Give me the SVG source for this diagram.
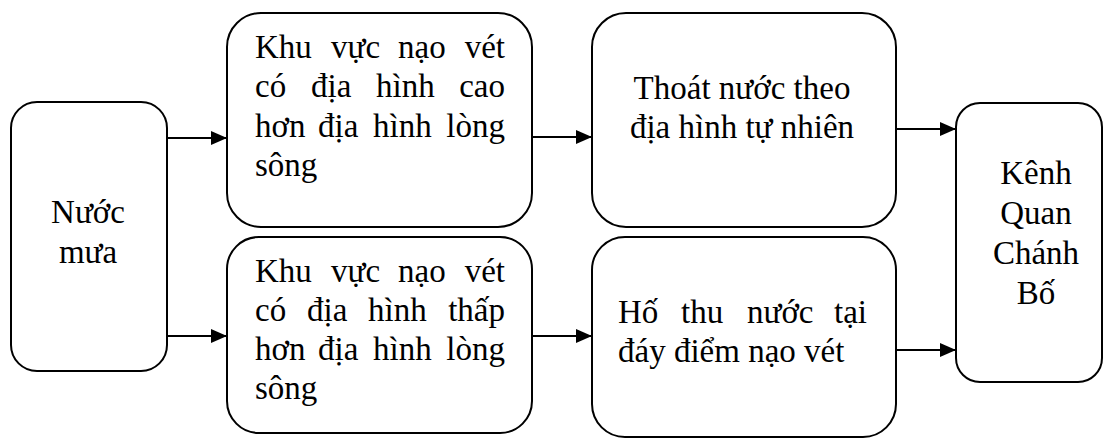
<svg xmlns="http://www.w3.org/2000/svg" width="1104" height="438" viewBox="0 0 1104 438">
  <style>
    .box { fill: #ffffff; stroke: #000000; stroke-width: 2; }
    .lbl { font-family: "Liberation Serif", "Times New Roman", serif; font-size: 33px; fill: #000000; }
    .mid { text-anchor: middle; }
    .end { text-anchor: end; }
    .link { stroke: #000000; stroke-width: 2; fill: none; marker-end: url(#arrow); }
  </style>
  <defs>
    <marker id="arrow" viewBox="0 0 16 14" refX="16" refY="7" markerWidth="16" markerHeight="14" markerUnits="userSpaceOnUse" orient="auto">
      <path d="M0,0 L16,7 L0,14 Z" fill="#000000"/>
    </marker>
  </defs>
  <rect width="1104" height="438" fill="#ffffff"/>

  <!-- rain water -->
  <g id="node-rain">
    <rect class="box" x="11" y="102" width="156" height="269" rx="26" ry="26"/>
    <text class="lbl mid" x="88" y="223">Nước</text>
    <text class="lbl mid" x="88" y="263">mưa</text>
  </g>

  <!-- dredged area above river bed -->
  <g id="node-high">
    <rect class="box" x="227" y="13" width="305" height="214" rx="34" ry="34"/>
    <text class="lbl" x="255" y="58">Khu</text>
    <text class="lbl" x="331" y="58">vực</text>
    <text class="lbl" x="398" y="58">nạo</text>
    <text class="lbl end" x="505" y="58">vét</text>
    <text class="lbl" x="255" y="97">có</text>
    <text class="lbl" x="311" y="97">địa</text>
    <text class="lbl" x="376" y="97">hình</text>
    <text class="lbl end" x="505" y="97">cao</text>
    <text class="lbl" x="255" y="137">hơn</text>
    <text class="lbl" x="318" y="137">địa</text>
    <text class="lbl" x="373" y="137">hình</text>
    <text class="lbl end" x="505" y="137">lòng</text>
    <text class="lbl" x="255" y="176">sông</text>
  </g>

  <!-- dredged area below river bed -->
  <g id="node-low">
    <rect class="box" x="227" y="237" width="305" height="196" rx="32" ry="32"/>
    <text class="lbl" x="255" y="282">Khu</text>
    <text class="lbl" x="331" y="282">vực</text>
    <text class="lbl" x="398" y="282">nạo</text>
    <text class="lbl end" x="505" y="282">vét</text>
    <text class="lbl" x="255" y="321">có</text>
    <text class="lbl" x="307" y="321">địa</text>
    <text class="lbl" x="368" y="321">hình</text>
    <text class="lbl end" x="505" y="321">thấp</text>
    <text class="lbl" x="255" y="360">hơn</text>
    <text class="lbl" x="318" y="360">địa</text>
    <text class="lbl" x="373" y="360">hình</text>
    <text class="lbl end" x="505" y="360">lòng</text>
    <text class="lbl" x="255" y="399">sông</text>
  </g>

  <!-- natural drainage -->
  <g id="node-natural">
    <rect class="box" x="592" y="13" width="304" height="214" rx="34" ry="34"/>
    <text class="lbl mid" x="742" y="99">Thoát nước theo</text>
    <text class="lbl mid" x="742" y="138">địa hình tự nhiên</text>
  </g>

  <!-- collection pit -->
  <g id="node-pit">
    <rect class="box" x="592" y="237" width="304" height="200" rx="33" ry="33"/>
    <text class="lbl" x="618" y="323">Hố</text>
    <text class="lbl" x="681" y="323">thu</text>
    <text class="lbl" x="747" y="323">nước</text>
    <text class="lbl end" x="867" y="323">tại</text>
    <text class="lbl" x="618" y="362">đáy điểm nạo vét</text>
  </g>

  <!-- canal -->
  <g id="node-canal">
    <rect class="box" x="956" y="103" width="146" height="279" rx="24" ry="24"/>
    <text class="lbl mid" x="1036" y="184">Kênh</text>
    <text class="lbl mid" x="1036" y="224">Quan</text>
    <text class="lbl mid" x="1036" y="264">Chánh</text>
    <text class="lbl mid" x="1036" y="304">Bố</text>
  </g>

  <g id="connectors">
    <line class="link" x1="167" y1="138" x2="227" y2="138"/>
    <line class="link" x1="167" y1="336" x2="227" y2="336"/>
    <line class="link" x1="532" y1="137" x2="592" y2="137"/>
    <line class="link" x1="532" y1="336" x2="592" y2="336"/>
    <line class="link" x1="896" y1="129" x2="956" y2="129"/>
    <line class="link" x1="896" y1="350" x2="956" y2="350"/>
  </g>
</svg>
